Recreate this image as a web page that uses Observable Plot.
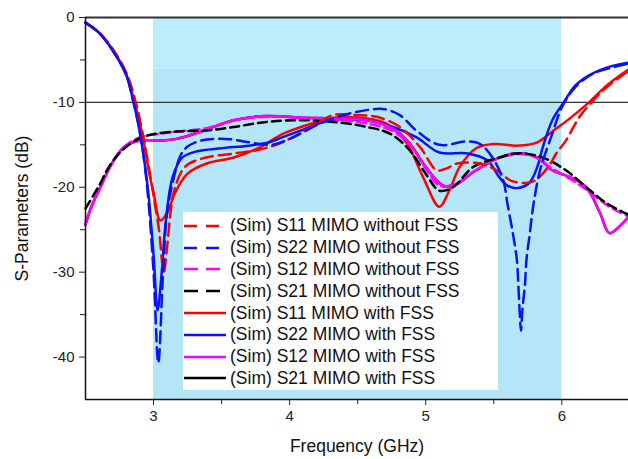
<!DOCTYPE html>
<html>
<head>
<meta charset="utf-8">
<script src="https://cdn.jsdelivr.net/npm/d3@7"></script>
<script src="https://cdn.jsdelivr.net/npm/@observablehq/plot@0.6"></script>
<style>
  html, body { margin: 0; padding: 0; background: #fff; }
  #wrap { position: relative; width: 628px; height: 459px; font-family: "Liberation Sans", Arial, sans-serif; }
  #legend { position: absolute; left: 183px; top: 212px; width: 315px; height: 178px; background: #fff; box-sizing: border-box; padding-top: 3px; }
  .row { display: flex; align-items: center; height: 21.8px; font-size: 17.5px; color: #111; white-space: nowrap; }
  .row svg { margin-left: 1px; margin-right: 4px; flex: none; }
</style>
</head>
<body>
<div id="wrap"></div>
<script>
// ---- data (frequency GHz, S-parameter dB) ----
const s11Without = [[2.5,-0.6],[2.6,-1.8],[2.7,-3.7],[2.8,-6.5],[2.87,-10],[2.93,-14.5],[2.98,-19],[3.0,-21],[3.04,-25],[3.075,-30],[3.1,-27],[3.125,-23],[3.15,-20.5],[3.23,-17.6],[3.36,-16.6],[3.6,-16],[3.77,-15.6],[3.9,-15],[4.0,-14.3],[4.15,-13],[4.32,-11.5],[4.49,-11.5],[4.64,-11.7],[4.81,-12.9],[4.96,-15.3],[5.08,-18],[5.15,-17.8],[5.23,-17.2],[5.4,-17.2],[5.52,-18],[5.64,-19.3],[5.79,-19.3],[5.9,-17.6],[5.96,-16],[6.03,-14.5],[6.13,-11.7],[6.23,-9.8],[6.33,-8.2],[6.5,-6.2]];
const s22Without = [[2.5,-0.6],[2.6,-1.8],[2.7,-3.9],[2.8,-6.8],[2.85,-9.8],[2.9,-13.5],[2.95,-19.5],[3.0,-30],[3.035,-40.7],[3.07,-30],[3.1,-23],[3.15,-18.8],[3.2,-16.2],[3.25,-15.2],[3.35,-14.5],[3.53,-14.3],[3.7,-14.7],[3.87,-15.0],[4.0,-14.3],[4.1,-13.5],[4.25,-12.3],[4.44,-11.3],[4.62,-10.8],[4.7,-10.8],[4.81,-11.5],[4.93,-13.3],[5.1,-15.0],[5.3,-14.6],[5.4,-14.9],[5.49,-16.5],[5.57,-19.2],[5.6,-21.9],[5.64,-25.4],[5.67,-28.6],[5.68,-31.3],[5.69,-34.5],[5.70,-36.9],[5.71,-34.5],[5.73,-31.3],[5.74,-28.6],[5.765,-25.4],[5.79,-22.2],[5.84,-18],[5.93,-13.7],[6.0,-10.6],[6.1,-8.2],[6.23,-6.6],[6.37,-5.9],[6.5,-5.4]];
const s12Without = [[2.5,-24],[2.6,-20.3],[2.68,-17.6],[2.78,-15.3],[2.9,-14.1],[3.05,-13.7],[3.2,-13.4],[3.4,-13.0],[3.59,-12.1],[3.83,-11.7],[4.08,-11.8],[4.32,-12.0],[4.57,-12.5],[4.76,-13.4],[4.9,-15.3],[5.0,-17.8],[5.1,-19.8],[5.2,-19.8],[5.35,-18.2],[5.5,-16.8],[5.67,-16.1],[5.8,-16.4],[5.93,-17.8],[6.08,-19.2],[6.2,-20.5],[6.35,-22.3],[6.5,-23.5]];
const s21Without = [[2.5,-22.5],[2.6,-19.8],[2.68,-17.4],[2.78,-15.5],[2.9,-14.2],[3.05,-13.6],[3.22,-13.4],[3.39,-13.3],[3.59,-12.9],[3.83,-12.3],[4.08,-12.1],[4.32,-12.3],[4.57,-12.9],[4.74,-13.7],[4.88,-15.6],[5.0,-18.4],[5.1,-20.4],[5.2,-20],[5.35,-17.6],[5.54,-16.5],[5.69,-16],[5.86,-16.5],[6.03,-18],[6.18,-20],[6.33,-21.9],[6.5,-23.3]];
const s11With = [[2.5,-0.6],[2.6,-1.8],[2.7,-3.8],[2.8,-6.7],[2.86,-10],[2.92,-14],[2.97,-18.5],[3.0,-20.6],[3.05,-23.9],[3.1,-23],[3.16,-20.6],[3.25,-18.4],[3.39,-17.2],[3.59,-16.5],[3.78,-15.3],[3.95,-13.7],[4.2,-12.3],[4.32,-11.8],[4.57,-11.9],[4.71,-12.5],[4.86,-14.8],[4.98,-18.8],[5.1,-22.3],[5.17,-20.5],[5.25,-17.6],[5.37,-15.4],[5.5,-14.9],[5.67,-15.1],[5.82,-14.7],[5.94,-13.3],[6.05,-12],[6.2,-10],[6.33,-8],[6.5,-6.0]];
const s22With = [[2.5,-0.6],[2.6,-1.8],[2.7,-3.9],[2.8,-6.8],[2.85,-9.8],[2.9,-13.6],[2.96,-20.4],[3.0,-28],[3.03,-34.5],[3.06,-30],[3.09,-24],[3.14,-18.8],[3.21,-16.5],[3.31,-15.8],[3.5,-15.4],[3.7,-15.1],[3.85,-14.7],[3.95,-14.1],[4.1,-13.2],[4.25,-12.3],[4.4,-12.0],[4.57,-12.1],[4.76,-12.9],[4.93,-14.1],[5.1,-15.9],[5.3,-16.0],[5.45,-16.8],[5.54,-18.8],[5.6,-19.8],[5.67,-20.1],[5.76,-19.5],[5.82,-17.6],[5.86,-15.3],[5.93,-12.1],[6.01,-10.1],[6.1,-8.0],[6.2,-6.8],[6.33,-5.9],[6.5,-5.3]];
const s12With = [[2.5,-24.4],[2.55,-22],[2.61,-20],[2.68,-17.6],[2.78,-15.3],[2.9,-14.5],[3.05,-14.5],[3.17,-14.3],[3.34,-13.5],[3.59,-12.1],[3.83,-11.6],[4.08,-11.8],[4.32,-11.9],[4.57,-12.1],[4.76,-13.1],[4.88,-14.8],[5.0,-17.6],[5.13,-19.8],[5.23,-19.6],[5.35,-18.2],[5.54,-16.5],[5.67,-16],[5.82,-16.5],[5.93,-18],[6.06,-18.8],[6.18,-20],[6.28,-23],[6.35,-25.4],[6.45,-24.2],[6.5,-23.3]];
const s21With = [[2.5,-24.4],[2.55,-22],[2.61,-20],[2.68,-17.6],[2.78,-15.3],[2.9,-14.5],[3.05,-14.5],[3.17,-14.3],[3.34,-13.5],[3.59,-12.1],[3.83,-11.6],[4.08,-11.8],[4.32,-11.9],[4.57,-12.1],[4.76,-13.1],[4.88,-14.8],[5.0,-17.6],[5.13,-19.8],[5.23,-19.6],[5.35,-18.2],[5.54,-16.5],[5.67,-16],[5.82,-16.5],[5.93,-18],[6.06,-18.8],[6.18,-20],[6.28,-23],[6.35,-25.4],[6.45,-24.2],[6.5,-23.3]];

const seriesNames = [
  "(Sim) S11 MIMO without FSS", "(Sim) S22 MIMO without FSS",
  "(Sim) S12 MIMO without FSS", "(Sim) S21 MIMO without FSS",
  "(Sim) S11 MIMO with FSS", "(Sim) S22 MIMO with FSS",
  "(Sim) S12 MIMO with FSS", "(Sim) S21 MIMO with FSS"
];
const seriesData = [s11Without, s22Without, s12Without, s21Without, s11With, s22With, s12With, s21With];
const seriesColors = ["#ff0000", "#0a14f0", "#ff00ff", "#000000", "#ff0000", "#0a14f0", "#ff00ff", "#000000"];
const seriesDash = ["12,6", "12,6", "9,5", "9,5", null, null, null, null];

const xTicks = [3, 4, 5, 6];
const xMinor = [3.5, 4.5, 5.5];
const yTicks = [0, -10, -20, -30, -40];
const yMinor = [-5, -15, -25, -35];
const band = [{x1: 3, x2: 6, y1: -45, y2: -6.1, shade: "#b5e6f8"}, {x1: 3, x2: 6, y1: -6.1, y2: 0, shade: "#bdedfc"}];
const refLine = -10;
const xTitle = "Frequency (GHz)";
const yTitle = "S-Parameters (dB)";

// draw order: solids first (black under magenta), dashed on top
const drawOrder = [7, 4, 5, 6, 2, 3, 0, 1];

const lineMarks = drawOrder.map(i => Plot.line(seriesData[i], {
  x: d => d[0], y: d => d[1], stroke: seriesColors[i], strokeWidth: 2.5,
  strokeDasharray: seriesDash[i] || undefined, curve: "catmull-rom"
}));

const chart = Plot.plot({
  width: 628, height: 459,
  marginLeft: 85, marginRight: 0, marginTop: 17, marginBottom: 60,
  style: {fontFamily: "'Liberation Sans', Arial, sans-serif", fontSize: "15px", color: "#222", background: "transparent"},
  x: {domain: [2.5, 6.49]},
  y: {domain: [-45, 0]},
  marks: [
    Plot.rect(band, {x1: "x1", x2: "x2", y1: "y1", y2: "y2", fill: "shade"}),
    Plot.ruleY([refLine], {stroke: "#333", strokeWidth: 1.2}),
    ...lineMarks,
    Plot.ruleY([0], {stroke: "#333", strokeWidth: 2}),
    Plot.ruleX([2.5], {stroke: "#111", strokeWidth: 1.5}),
    Plot.ruleY([-45], {stroke: "#111", strokeWidth: 1.5}),
    Plot.axisX({ticks: xTicks, tickSize: 6, tickPadding: 5, tickFormat: d => String(d), fontSize: 15, label: null}),
    Plot.axisX({ticks: xMinor, tickSize: 5, tickFormat: () => "", label: null}),
    Plot.axisY({ticks: yTicks, tickSize: 6, tickPadding: 5, tickFormat: d => String(d), fontSize: 15, label: null}),
    Plot.axisY({ticks: yMinor, tickSize: 5, tickFormat: () => "", label: null}),
    Plot.text([xTitle], {frameAnchor: "bottom", text: d => d, dy: 47, textAnchor: "middle", lineAnchor: "middle", fontSize: 17.5, fill: "#111"}),
    Plot.text([yTitle], {frameAnchor: "left", text: d => d, dx: -63, rotate: -90, textAnchor: "middle", lineAnchor: "middle", fontSize: 17.5, fill: "#111"})
  ]
});
const wrap = document.getElementById("wrap");
wrap.appendChild(chart);

// legend
const legend = document.createElement("div");
legend.id = "legend";
seriesNames.forEach((name, i) => {
  const row = document.createElement("div");
  row.className = "row";
  const dash = seriesDash[i] ? `stroke-dasharray="${seriesDash[i] === "12,6" ? "13,9" : "14,8"}"` : "";
  row.innerHTML = `<svg width="42" height="6"><line x1="0" y1="3" x2="42" y2="3" stroke="${seriesColors[i]}" stroke-width="2.5" ${dash}/></svg><span>${name}</span>`;
  legend.appendChild(row);
});
wrap.appendChild(legend);
</script>
</body>
</html>
